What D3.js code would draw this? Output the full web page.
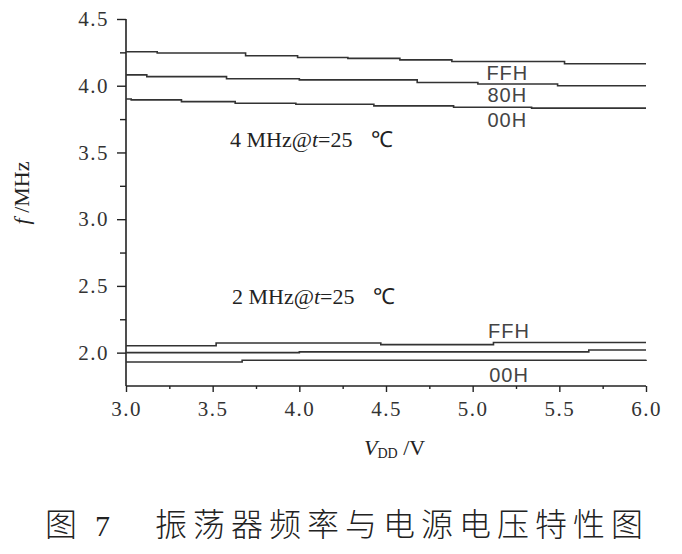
<!DOCTYPE html>
<html>
<head>
<meta charset="utf-8">
<script src="https://cdn.jsdelivr.net/npm/d3@7"></script>
<style>
  body { margin: 0; background: #fff; }
  svg { display: block; }
</style>
</head>
<body>
<div id="chart"></div>
<script>
// supply voltage (V) and frequency (MHz), step points
const vdd4FFH = [3.0, 3.18, 3.69, 3.99, 4.28, 4.58, 4.88, 5.53, 6.0];
const f4FFH   = [4.255, 4.245, 4.225, 4.212, 4.205, 4.194, 4.181, 4.165, 4.165];
const vdd480H = [3.0, 3.12, 3.58, 4.0, 4.68, 5.03, 5.49, 6.0];
const f480H   = [4.081, 4.068, 4.052, 4.044, 4.024, 4.013, 4.0, 4.0];
const vdd400H = [3.0, 3.03, 3.32, 3.63, 3.98, 4.43, 4.89, 5.34, 6.0];
const f400H   = [3.901, 3.894, 3.881, 3.869, 3.861, 3.849, 3.839, 3.832, 3.832];

const vdd2FFH = [3.0, 3.52, 4.47, 5.12, 6.0];
const f2FFH   = [2.052, 2.072, 2.06, 2.076, 2.076];
const vdd280H = [3.0, 4.0, 5.67, 6.0];
const f280H   = [2.0, 2.006, 2.02, 2.02];
const vdd200H = [3.0, 3.67, 6.0];
const f200H   = [1.93, 1.943, 1.946];

const xTicks = [3.0, 3.5, 4.0, 4.5, 5.0, 5.5, 6.0];
const yTicks = [2.0, 2.5, 3.0, 3.5, 4.0, 4.5];

const width = 682, height = 554;
const serif = '"Liberation Serif", "Times New Roman", serif';

const svg = d3.select('#chart').append('svg')
    .attr('width', width)
    .attr('height', height);

const x = d3.scaleLinear().domain([3, 6]).range([126, 646]);
const y = d3.scaleLinear().domain([1.75, 4.5]).range([386, 19]);

// axes
const xAxis = d3.axisBottom(x).tickValues(xTicks).tickFormat(d3.format('.1f')).tickSize(6).tickPadding(9);
const xMinor = d3.axisBottom(x).tickValues(d3.range(3.25, 6, 0.5)).tickFormat('').tickSize(3);
const yAxis = d3.axisLeft(y).tickValues(yTicks).tickFormat(d3.format('.1f')).tickSize(9).tickPadding(8);
const yMinor = d3.axisLeft(y).tickValues(d3.range(2.25, 4.5, 0.5)).tickFormat('').tickSize(6);

function styleAxis(g) {
    g.attr('font-family', serif).attr('font-size', 21);
    g.select('.domain').attr('stroke', '#222').attr('stroke-width', 1.6);
    g.selectAll('.tick line').attr('stroke', '#222').attr('stroke-width', 1.4);
    g.selectAll('.tick text')
        .style('font-family', serif)
        .style('font-size', '21px')
        .style('letter-spacing', '1.5px')
        .attr('fill', '#333');
}

svg.append('g').attr('transform', 'translate(0,386)').call(xAxis).call(styleAxis)
    .call(g => g.select('.domain').attr('d', 'M126,0H646'));
svg.append('g').attr('transform', 'translate(0,386)').call(xMinor).call(styleAxis)
    .call(g => g.select('.domain').remove());
svg.append('g').attr('transform', 'translate(126,0)').call(yAxis).call(styleAxis)
    .call(g => g.select('.domain').attr('d', 'M0,19V386'));
svg.append('g').attr('transform', 'translate(126,0)').call(yMinor).call(styleAxis)
    .call(g => g.select('.domain').remove());

// curves
const series = [
    [vdd4FFH, f4FFH], [vdd480H, f480H], [vdd400H, f400H],
    [vdd2FFH, f2FFH], [vdd280H, f280H], [vdd200H, f200H]
];
const line = d3.line()
    .x(d => x(d[0]))
    .y(d => y(d[1]))
    .curve(d3.curveStepAfter);

svg.append('g').selectAll('path')
    .data(series.map(s => s[0].map((v, i) => [v, s[1][i]])))
    .join('path')
    .attr('d', line)
    .attr('fill', 'none')
    .attr('stroke', '#333')
    .attr('stroke-width', 1.6);

// curve labels
const codes = [
    { t: 'FFH', v: 5.2, f: 4.043 },
    { t: '80H', v: 5.2, f: 3.878 },
    { t: '00H', v: 5.2, f: 3.691 },
    { t: 'FFH', v: 5.21, f: 2.11 },
    { t: '00H', v: 5.21, f: 1.78 }
];
svg.append('g').selectAll('text')
    .data(codes)
    .join('text')
    .attr('x', d => x(d.v))
    .attr('y', d => y(d.f))
    .attr('text-anchor', 'middle')
    .style('font-family', '"Liberation Sans", sans-serif')
    .style('font-size', '20px')
    .style('letter-spacing', '1px')
    .attr('fill', '#444')
    .text(d => d.t);

// condition notes
function note(txt, px, py) {
    const t = svg.append('text').attr('x', px).attr('y', py)
        .style('font-family', serif).style('font-size', '22px').attr('fill', '#222');
    t.append('tspan').text(txt + ' MHz@');
    t.append('tspan').attr('font-style', 'italic').text('t');
    t.append('tspan').text('=25');
    t.append('tspan').attr('dx', 18).text('℃');
}
note('4', 230, 147);
note('2', 232, 304);

// axis titles
const yt = svg.append('text')
    .attr('transform', 'translate(29,193) rotate(-90)')
    .attr('text-anchor', 'middle')
    .style('font-family', serif)
    .style('font-size', '22px')
    .attr('fill', '#222');
yt.append('tspan').attr('font-style', 'italic').text('f');
yt.append('tspan').text(' /MHz');

const xt = svg.append('text')
    .attr('x', 364).attr('y', 455)
    .style('font-family', serif)
    .style('font-size', '22px')
    .attr('fill', '#222');
xt.append('tspan').attr('font-style', 'italic').text('V');
xt.append('tspan').attr('font-size', 14).attr('dy', 3).text('DD');
xt.append('tspan').attr('dy', -3).text(' /V');

// caption
const cjk = '"Noto Sans CJK SC", sans-serif';
svg.append('text')
    .attr('x', 45).attr('y', 536)
    .style('font-family', cjk).style('font-size', '32px').style('font-weight', 300)
    .attr('fill', '#222')
    .text('图');
svg.append('text')
    .attr('x', 95).attr('y', 536)
    .style('font-family', serif).style('font-size', '30px')
    .attr('fill', '#222')
    .text('7');
svg.append('text')
    .attr('x', 155).attr('y', 536)
    .style('font-family', cjk).style('font-size', '32px').style('font-weight', 300)
    .style('letter-spacing', '6px')
    .attr('fill', '#222')
    .text('振荡器频率与电源电压特性图');
</script>
</body>
</html>
